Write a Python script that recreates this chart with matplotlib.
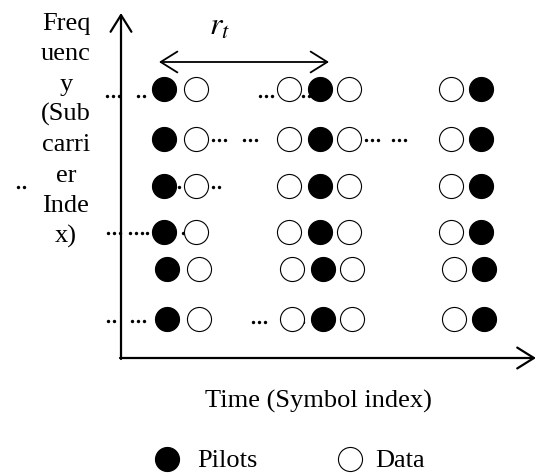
import matplotlib
matplotlib.use('Agg')
import numpy as np
import matplotlib.pyplot as plt

plt.rcParams['font.family'] = ['Liberation Serif', 'DejaVu Serif']
plt.rcParams['mathtext.fontset'] = 'stix'

# subcarrier rows (pixel y) and small right shift of the lower rows
row_y = [89, 139, 186, 232, 269, 319]
row_shift = [0, 0, 0, 0, 3, 3]

# symbol columns (pixel x) holding pilots / data
pilot_x = [164, 320, 481]
data_x = [196, 289, 349, 451]

# dotted "..." runs: (start x, number of dots, y)
dot_runs = [
    (107, 3, 96), (138, 2, 96), (260, 3, 96), (303, 2, 96),
    (213, 3, 140), (244, 3, 140), (366, 3, 140), (393, 3, 140),
    (18, 2, 187), (179, 1, 187), (213, 2, 187),
    (108, 3, 233), (130, 4, 233), (183, 1, 233),
    (108, 2, 321), (132, 3, 321), (253, 3, 322), (303, 1, 322),
]

ylabel_lines = ['Freq', 'uenc', 'y', '(Sub', 'carri', 'er', 'Inde', 'x)']

W, H = 538, 474
fig = plt.figure(figsize=(W / 100, H / 100), dpi=100)
ax = fig.add_axes([0, 0, 1, 1])
ax.set_xlim(0, W)
ax.set_ylim(H, 0)
ax.axis('off')

fs = 19
circ = 300
ew = 0.8

# dots first, circles paint over them
for x0, n, y in dot_runs:
    xs = x0 + 5.8 * np.arange(n)
    ax.scatter(xs, [y] * n, s=6, color='black', linewidths=0, zorder=2)

for y, dx in zip(row_y, row_shift):
    ax.scatter([x + dx for x in pilot_x], [y] * len(pilot_x), s=circ,
               facecolor='black', edgecolor='black', linewidths=ew, zorder=3)
    ax.scatter([x + dx for x in data_x], [y] * len(data_x), s=circ,
               facecolor='white', edgecolor='black', linewidths=ew, zorder=3)

# axes arrows
arrow = dict(arrowstyle='->,head_length=1.2,head_width=0.75', lw=1.6,
             color='black', shrinkA=0, shrinkB=0, mutation_scale=10)
ax.annotate('', xy=(121, 13), xytext=(121, 359), arrowprops=arrow)
ax.annotate('', xy=(536, 358), xytext=(120, 358), arrowprops=arrow)

# r_t spacing arrow
rt = dict(arrowstyle='<->,head_length=1.2,head_width=0.75', lw=1.3,
          color='black', shrinkA=0, shrinkB=0, mutation_scale=10)
ax.annotate('', xy=(329, 62), xytext=(159, 62), arrowprops=rt)
ax.text(220, 35, r'$r_t$', fontsize=23, ha='center', va='baseline')

for i, line in enumerate(ylabel_lines):
    ax.text(66, 30 + 30.3 * i, line, fontsize=fs, ha='center', va='baseline')

ax.text(318, 408, 'Time (Symbol index)', fontsize=fs, ha='center',
        va='baseline')

# legend
ax.scatter([167], [459], s=circ, facecolor='black', edgecolor='black',
           linewidths=ew)
ax.text(197, 467, 'Pilots', fontsize=fs, va='baseline')
ax.scatter([350], [459], s=circ, facecolor='white', edgecolor='black',
           linewidths=ew)
ax.text(375, 467, 'Data', fontsize=fs, va='baseline')

fig.savefig('out.png', dpi=100)
